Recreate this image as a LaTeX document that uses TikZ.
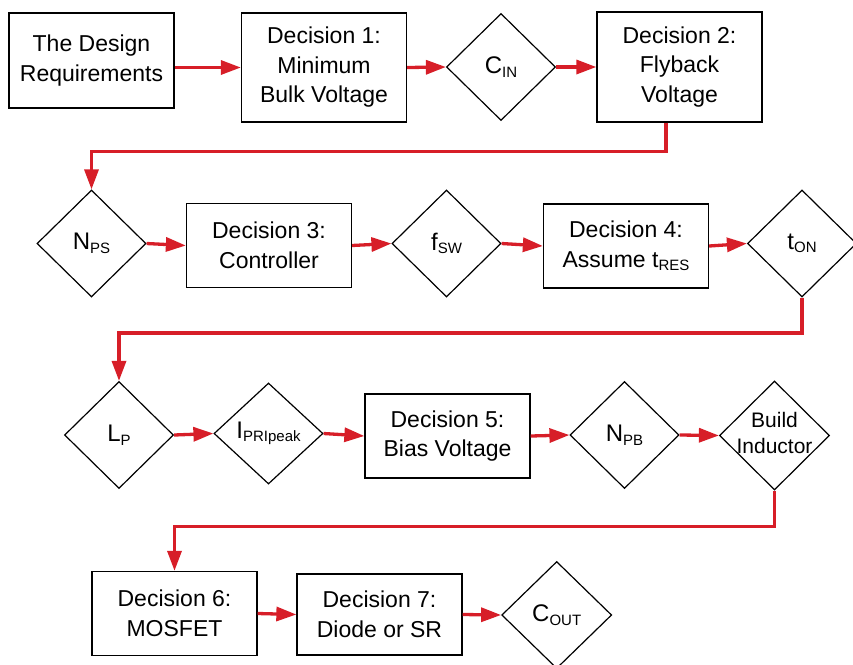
\documentclass[tikz,border=0pt]{standalone}
\usepackage{fontspec}
\setmainfont{Liberation Sans}
\definecolor{flowred}{RGB}{215,30,40}
\usetikzlibrary{arrows.meta, shapes.geometric, calc}
\newcommand{\lowsub}[1]{\raisebox{-3.5pt}{\fontsize{15}{15}\selectfont #1}}

\begin{document}
\begin{tikzpicture}[x=1pt, y=-1pt,
  box/.style={draw, line width=1.3pt, minimum width=165pt, minimum height=84pt,
    align=center, inner sep=0pt, font=\fontsize{23}{29.5}\selectfont},
  choice/.style={diamond, draw, line width=1.2pt, minimum width=109pt,
    minimum height=107pt, inner sep=0pt, font=\fontsize{24}{29}\selectfont},
  flow/.style={-{Triangle[length=20pt, width=14pt]}, line width=3.3pt, flowred}]
  \useasboundingbox (0,0) rectangle (853,664);

  % Row 1
  \node[box, minimum height=95pt] (req) at (91.5,60.5) {The Design\\Requirements};
  \node[box, minimum height=109pt] (dec1) at (324,67.5) {Decision 1:\\Minimum\\Bulk Voltage};
  \node[choice] (cin) at (501,67) {C\lowsub{IN}};
  \node[box, minimum height=110pt] (dec2) at (679.5,67) {Decision 2:\\Flyback\\Voltage};

  % Row 2
  \node[choice] (nps) at (91.5,243.5) {N\lowsub{PS}};
  \node[box] (dec3) at (269,245.5) {Decision 3:\\Controller};
  \node[choice] (fsw) at (446.5,243.5) {f\lowsub{SW}};
  \node[box] (dec4) at (626,246) {Decision 4:\\Assume t\lowsub{RES}};
  \node[choice] (ton) at (802,243.5) {t\lowsub{ON}};

  % Row 3
  \node[choice] (lp) at (119,435) {L\lowsub{P}};
  \node[choice, minimum height=101pt] (ipk) at (268.5,433.5) {I\lowsub{PRIpeak}};
  \node[box] (dec5) at (447.5,436) {Decision 5:\\Bias Voltage};
  \node[choice] (npb) at (624.5,435) {N\lowsub{PB}};
  \node[choice, minimum width=110pt, minimum height=109pt, font=\fontsize{21}{26}\selectfont] (build) at (774.5,435.5)
    {\makebox[0pt]{\begin{tabular}{@{}c@{}}Build\\Inductor\end{tabular}}};

  % Row 4
  \node[box] (dec6) at (174.5,613.5) {Decision 6:\\MOSFET};
  \node[box, minimum height=81pt] (dec7) at (379.5,614.5) {Decision 7:\\Diode or SR};
  \node[choice, minimum width=110pt] (cout) at (556.7,615) {C\lowsub{OUT}};

  % Flow
  \draw[flow] (req.east |- dec1.west) -- (dec1.west);
  \draw[flow] (dec1.east) -- (cin.west);
  \draw[flow] (cin.east) -- (dec2.west);
  \draw[flow] ([xshift=-13.5pt]dec2.south) -- ++(0,29) -| (nps.north);
  \draw[flow] (nps.east) -- (dec3.west);
  \draw[flow] (dec3.east) -- (fsw.west);
  \draw[flow] (fsw.east) -- (dec4.west);
  \draw[flow] (dec4.east) -- (ton.west);
  \draw[flow] (ton.south) -- ++(0,35.5) -| (lp.north);
  \draw[flow] (lp.east) -- (ipk.west);
  \draw[flow] (ipk.east) -- (dec5.west);
  \draw[flow] (dec5.east) -- (npb.west);
  \draw[flow] (npb.east) -- (build.west);
  \draw[flow] (build.south) -- ++(0,36) -| (dec6.north);
  \draw[flow] (dec6.east) -- (dec7.west);
  \draw[flow] (dec7.east) -- (cout.west);
\end{tikzpicture}
\end{document}
